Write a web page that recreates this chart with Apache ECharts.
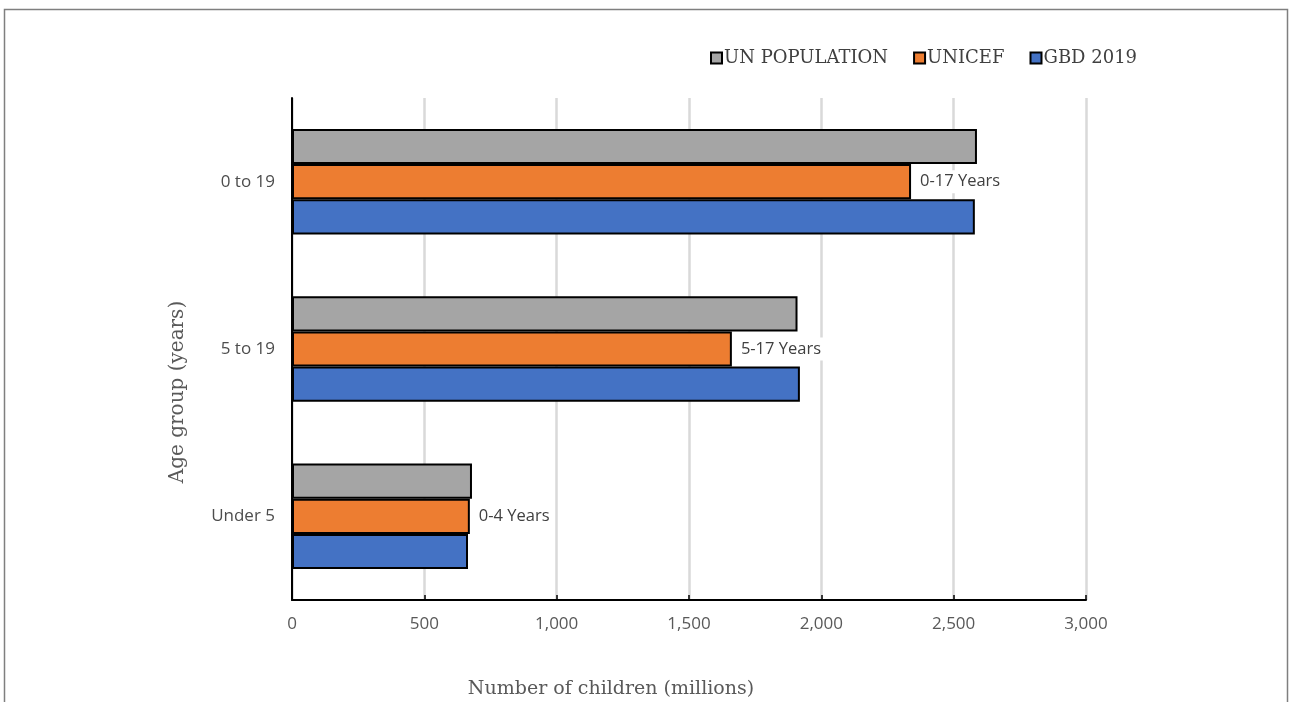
<!DOCTYPE html>
<html>
<head>
<meta charset="utf-8">
<title>Number of children by age group</title>
<script src="https://cdn.jsdelivr.net/npm/echarts@6/dist/echarts.min.js"></script>
<style>
  html, body { margin: 0; padding: 0; background: #ffffff; }
  #chart { width: 1290px; height: 702px; }
</style>
</head>
<body>
<div id="chart"></div>
<script>
// Age groups, bottom to top on the category axis
const categories = ['Under 5', '5 to 19', '0 to 19'];

// Number of children (millions) per source
const unPopulation = [680, 1910, 2588];
const unicef = [672, 1662, 2339];
const gbd2019 = [665, 1919, 2580];

// UNICEF reports slightly different age bands
const unicefBands = ['0-4 Years', '5-17 Years', '0-17 Years'];

// Value axis ticks
const xTicks = [0, 500, 1000, 1500, 2000, 2500, 3000];

const sansFont = '"Open Sans", "Noto Sans", sans-serif';
const serifFont = '"DejaVu Serif", "Liberation Serif", serif';

const barBorder = { borderColor: '#000000', borderWidth: 2 };

const chart = echarts.init(document.getElementById('chart'), null, { renderer: 'canvas' });

chart.setOption({
  backgroundColor: '#ffffff',
  animation: false,
  grid: { left: 292, right: 204, top: 98, bottom: 102, containLabel: false },
  legend: {
    top: 44,
    left: 705,
    icon: 'rect',
    itemWidth: 11,
    itemHeight: 11,
    itemGap: 25,
    itemStyle: { borderColor: '#000000', borderWidth: 2 },
    textStyle: { fontFamily: serifFont, fontSize: 18, color: '#404040', padding: [0, 0, 0, -3] }
  },
  xAxis: {
    type: 'value',
    min: xTicks[0],
    max: xTicks[xTicks.length - 1],
    interval: xTicks[1] - xTicks[0],
    axisLine: { show: true, lineStyle: { color: '#000000', width: 2 } },
    axisTick: { show: true, inside: true, length: 5, lineStyle: { color: '#000000', width: 1.5 } },
    splitLine: { show: true, lineStyle: { color: '#d9d9d9', width: 2.5 } },
    axisLabel: {
      margin: 16,
      fontFamily: sansFont,
      fontSize: 17,
      color: '#595959',
      formatter: v => v.toLocaleString('en-US')
    }
  },
  yAxis: {
    type: 'category',
    data: categories,
    axisLine: { show: true, lineStyle: { color: '#000000', width: 2 } },
    axisTick: { show: false },
    splitLine: { show: false },
    axisLabel: { margin: 17, fontFamily: sansFont, fontSize: 17, color: '#4d4d4d' }
  },
  series: [
    {
      name: 'UN POPULATION',
      type: 'bar',
      data: unPopulation,
      barGap: '0%',
      barCategoryGap: '37%',
      itemStyle: Object.assign({ color: '#a5a5a5' }, barBorder)
    },
    {
      name: 'UNICEF',
      type: 'bar',
      data: unicef,
      barGap: '0%',
      barCategoryGap: '37%',
      itemStyle: Object.assign({ color: '#ed7d31' }, barBorder),
      label: {
        show: true,
        position: 'right',
        distance: 5,
        formatter: p => unicefBands[p.dataIndex],
        fontFamily: sansFont,
        fontSize: 16.5,
        color: '#404040',
        backgroundColor: '#ffffff',
        padding: [3, 4, 3, 4]
      }
    },
    {
      name: 'GBD 2019',
      type: 'bar',
      data: gbd2019,
      barGap: '0%',
      barCategoryGap: '37%',
      itemStyle: Object.assign({ color: '#4472c4' }, barBorder)
    }
  ],
  graphic: [
    {
      type: 'rect',
      silent: true,
      shape: { x: 4.5, y: 9.5, width: 1283, height: 720 },
      style: { fill: 'none', stroke: '#7f7f7f', lineWidth: 1.5 }
    },
    {
      type: 'text',
      silent: true,
      x: 611,
      y: 689,
      style: {
        text: 'Number of children (millions)',
        font: '19px ' + serifFont,
        fill: '#595959',
        align: 'center',
        verticalAlign: 'middle'
      }
    },
    {
      type: 'text',
      silent: true,
      x: 178,
      y: 392,
      rotation: Math.PI / 2,
      style: {
        text: 'Age group (years)',
        font: '20px ' + serifFont,
        fill: '#595959',
        align: 'center',
        verticalAlign: 'middle'
      }
    }
  ]
});
</script>
</body>
</html>
